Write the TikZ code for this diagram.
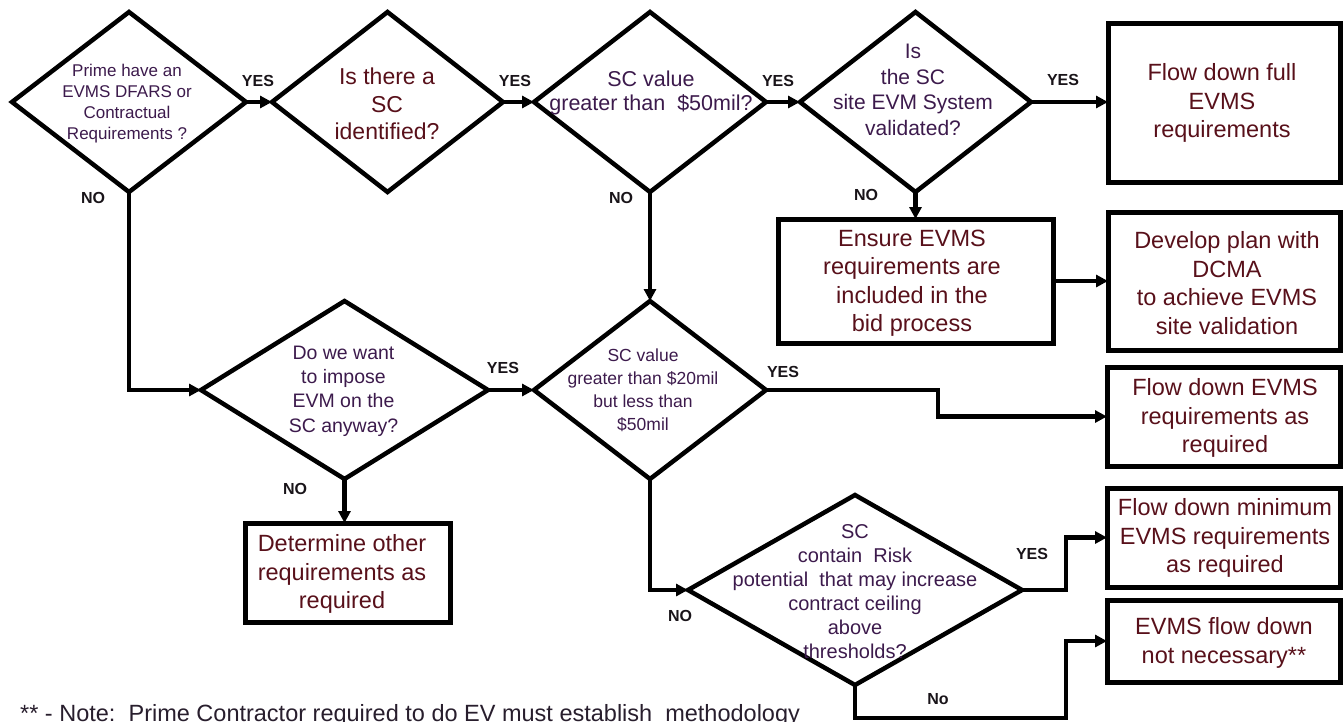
\documentclass[tikz,border=0pt]{standalone}
\usepackage{fontspec}
\setmainfont{Liberation Sans}
\usetikzlibrary{shapes.geometric,arrows.meta}

\definecolor{boxtxt}{RGB}{88,16,26}
\definecolor{diatxt}{RGB}{60,26,76}
\definecolor{lbl}{RGB}{25,20,25}
\definecolor{notetxt}{RGB}{40,30,45}

\tikzset{
  dia/.style={draw=black, line width=4.5pt, shape=diamond, inner sep=0pt, outer sep=0pt},
  box/.style={draw=black, line width=5pt, rectangle, inner sep=0pt, outer sep=0pt},
  btxt/.style={align=center, inner sep=0pt, text=boxtxt, font=\fontsize{23.5}{28.5}\selectfont},
  dtxt/.style={align=center, inner sep=0pt, text=diatxt},
  flow/.style={line width=4.5pt, -{Triangle[length=12pt,width=12pt]}},
  lab/.style={font=\bfseries\fontsize{16}{16}\selectfont, text=lbl, inner sep=0pt},
}

\begin{document}
\begin{tikzpicture}[x=1pt,y=-1pt]
\useasboundingbox (0,0) rectangle (1343,721);
\clip (0,0) rectangle (1343,721);

% decision diamonds
\node[dia, minimum width=234, minimum height=180] (d1) at (129,102) {};
\node[dia, minimum width=231, minimum height=180] (d2) at (387.5,102) {};
\node[dia, minimum width=232, minimum height=180] (d3) at (650,102) {};
\node[dia, minimum width=231, minimum height=180] (d4) at (915.5,102) {};
\node[dia, minimum width=287, minimum height=178] (d5) at (344.5,390) {};
\node[dia, minimum width=232, minimum height=178] (d6) at (650,390) {};
\node[dia, minimum width=334, minimum height=190] (d7) at (855,590) {};

% question texts
\node[dtxt, font=\fontsize{17}{21}\selectfont] (d1t) at (127,104)
  {Prime have an\\EVMS DFARS or\\Contractual\\Requirements ?};
\node[dtxt, text=boxtxt, font=\fontsize{23}{27.5}\selectfont] (d2t) at (387,104)
  {Is there a\\SC\\identified?};
\node[dtxt, font=\fontsize{21.5}{24.5}\selectfont] (d3t) at (651,93)
  {SC value\\greater than\ \ \$50mil?};
\node[dtxt, font=\fontsize{21}{25.5}\selectfont] (d4t) at (913,90)
  {Is\\the SC\\site EVM System\\validated?};
\node[dtxt, font=\fontsize{19.5}{24.3}\selectfont] (d5t) at (343.5,391)
  {Do we want\\to impose\\EVM on the\\SC anyway?};
\node[dtxt, font=\fontsize{17.5}{23}\selectfont] (d6t) at (643,390)
  {SC value\\greater than \$20mil\\but less than\\\$50mil};
\node[dtxt, font=\fontsize{20}{24}\selectfont] (d7t) at (855,592)
  {SC\\contain\ \ Risk\\potential\ \ that may increase\\contract ceiling\\above\\thresholds?};

% outcome boxes
\node[box, minimum width=232, minimum height=159] (b1) at (1224,102.5) {};
\node[box, minimum width=275, minimum height=124] (b2) at (915.5,281) {};
\node[box, minimum width=232, minimum height=138] (b3) at (1224,281) {};
\node[box, minimum width=233, minimum height=99] (b4) at (1223.5,416.5) {};
\node[box, minimum width=205, minimum height=99] (b5) at (347.5,572.5) {};
\node[box, minimum width=233, minimum height=99] (b6) at (1223.5,537.5) {};
\node[box, minimum width=233, minimum height=82] (b7) at (1223.5,641) {};

\node[btxt] (b1t) at (1222,103) {Flow down full\\EVMS\\requirements};
\node[btxt] (b2t) at (912,283) {Ensure EVMS\\requirements are\\included in the\\bid process};
\node[btxt] (b3t) at (1227,283) {Develop plan with\\DCMA\\to achieve EVMS\\site validation};
\node[btxt] (b4t) at (1225,418) {Flow down EVMS\\requirements as\\required};
\node[btxt] (b5t) at (342,574) {Determine other\\requirements as\\required};
\node[btxt] (b6t) at (1225,538) {Flow down minimum\\EVMS requirements\\as required};
\node[btxt] (b7t) at (1224,643) {EVMS flow down\\not necessary**};

% routing points for elbow connectors
\coordinate (j1) at (938,390);
\coordinate (j2) at (1066,590);
\coordinate (j3) at (1066,718);

% connectors
\draw[flow] (d1.east) -- (d2.west);
\draw[flow] (d2.east) -- (d3.west);
\draw[flow] (d3.east) -- (d4.west);
\draw[flow] (d4.east) -- (d4.east -| b1.west);
\draw[flow] (d4.south) -- (d4.south |- b2.north);
\draw[flow] (b2.east) -- (b3.west);
\draw[flow] (d3.south) -- (d6.north);
\draw[flow] (d1.south) |- (d5.west);
\draw[flow] (d5.east) -- (d6.west);
\draw[flow] (d6.east) -- (j1) |- (b4.west);
\draw[flow] (d5.south) -- (d5.south |- b5.north);
\draw[flow] (d6.south) |- (d7.west);
\draw[flow] (d7.east) -- (j2) |- (b6.west);
\draw[flow] (d7.south) |- (j3) |- (b7.west);

% branch labels
\node[lab] (y1) at (258,81) {YES};
\node[lab] (y2) at (515,81) {YES};
\node[lab] (y3) at (778,81) {YES};
\node[lab] (y4) at (1063,80) {YES};
\node[lab] (n1) at (93,198) {NO};
\node[lab] (n3) at (621,198) {NO};
\node[lab] (n4) at (866,195) {NO};
\node[lab] (y5) at (503,368) {YES};
\node[lab] (y6) at (783,372) {YES};
\node[lab] (n5) at (295,489) {NO};
\node[lab] (n6) at (680,616) {NO};
\node[lab] (y7) at (1032,554) {YES};
\node[lab] (n7) at (938,699) {No};

% footnote, running off the lower edge of the page
\node[anchor=base west, inner sep=0pt, text=notetxt, font=\fontsize{23.5}{28}\selectfont] (note) at (20,721)
  {** - Note:\ \ Prime Contractor required to do EV must establish\ \ methodology};
\end{tikzpicture}
\end{document}
